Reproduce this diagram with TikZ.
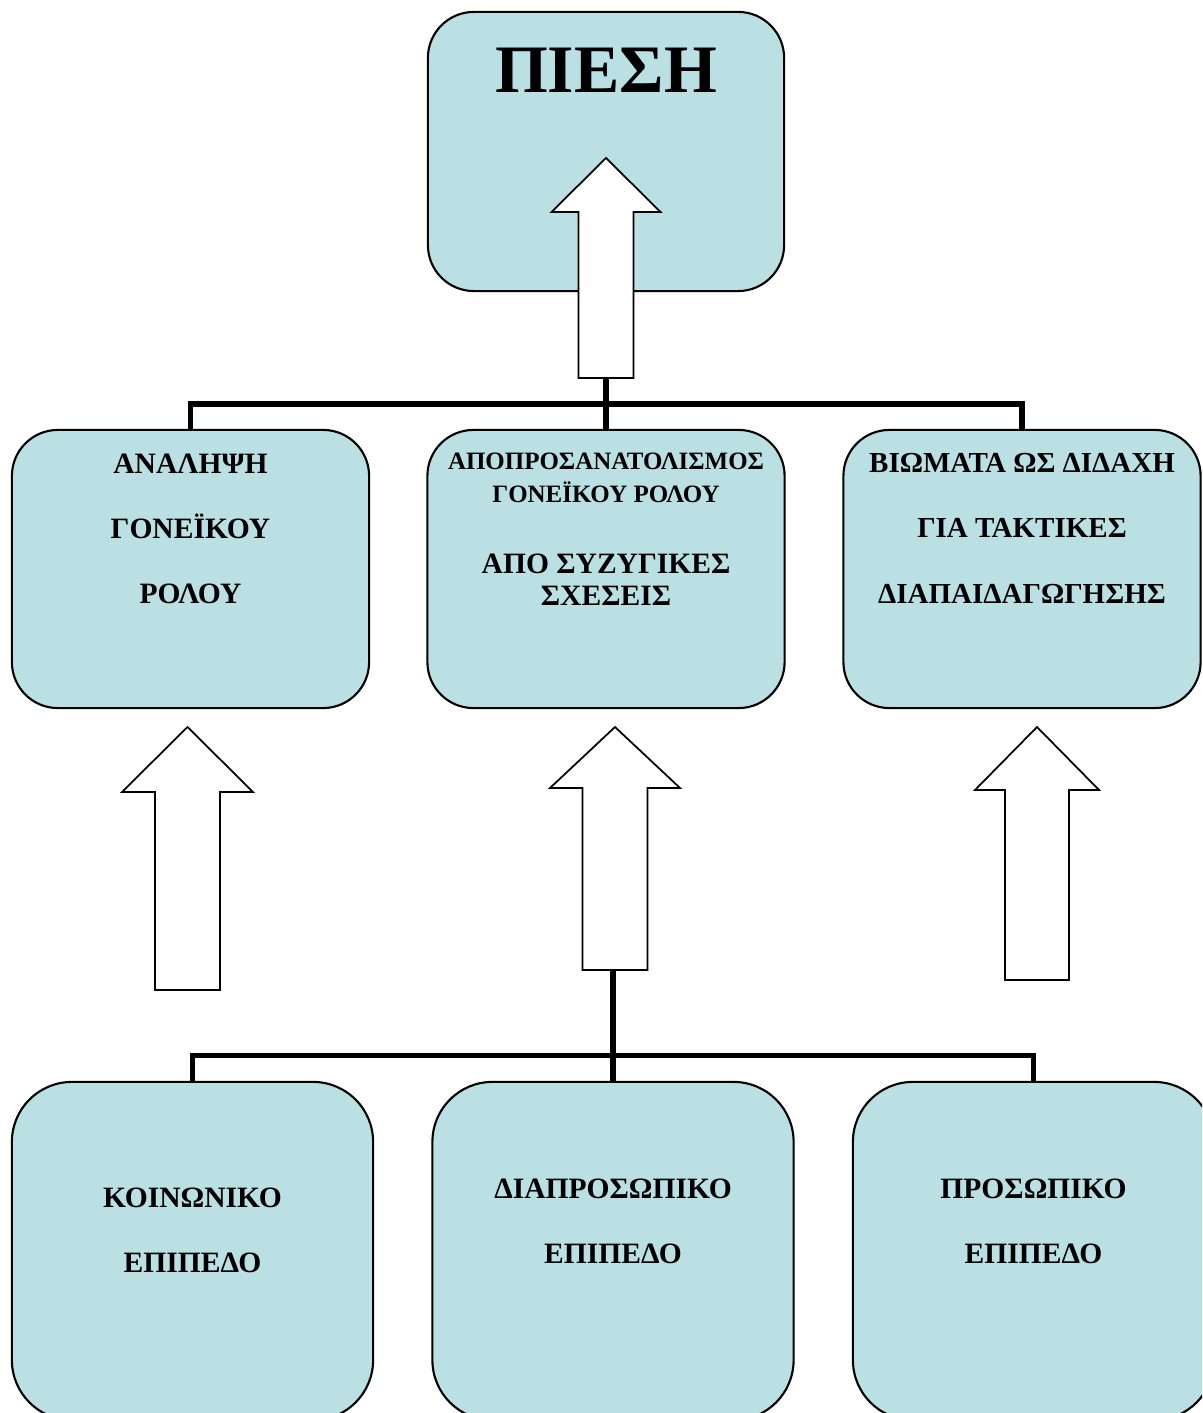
\documentclass[tikz,border=0pt]{standalone}
\usepackage{fontspec}
\setmainfont{Liberation Serif}
\usepackage{tikz}
\usetikzlibrary{positioning}
\definecolor{boxfill}{RGB}{187,224,227}
\newcommand{\boxline}{0.6pt}
\newcommand{\barline}{1.5pt}
% block arrow pointing up: name, x, tip y, head half, shaft half, head base y, tail y
\newcommand{\blockup}[7]{%
  \draw[blk] (#2,#3) -- (#2+#4,#6) -- (#2+#5,#6) -- (#2+#5,#7) -- (#2-#5,#7)
    -- (#2-#5,#6) -- (#2-#4,#6) -- cycle;
  \coordinate (#1) at (#2,#7);}

\begin{document}
\begin{tikzpicture}[x=0.01cm,y=-0.01cm]
                %\draw[help lines] (0,0) grid[step=100] (1202,1413);
                \clip (0,0) rectangle (1202,1413);
                \tikzset{pbox/.style = {draw, fill=boxfill, line width=\boxline, inner sep=0pt},
                         mbox/.style = {pbox, rounded corners=0.46cm, minimum width=3.57cm, minimum height=2.78cm},
                         lbox/.style = {pbox, rounded corners=0.6cm, minimum width=3.61cm, minimum height=3.38cm},
                         blk/.style = {draw, fill=white, line width=0.5pt, line join=miter},
                         bar/.style = {line width=\barline},
                         txt/.style = {anchor=north, inner sep=0pt, align=center,
                                       font=\bfseries\fontsize{8.4}{18.5}\selectfont}}
                % boxes
                \node[pbox, rounded corners=0.46cm, minimum width=3.56cm, minimum height=2.79cm] (p) at (606,151.5) {};
                \node[mbox] (m1) at (190.5,569) {};
                \node[mbox] (m2) at (606,569) {};
                \node[mbox] (m3) at (1022,569) {};
                \node[lbox] (b1) at (192.5,1251) {};
                \node[lbox] (b2) at (613,1251) {};
                \node[lbox] (b3) at (1033.5,1251) {};
                % texts
                \node[txt, font=\bfseries\fontsize{19.3}{22}\selectfont] (tp) at (606,47) {ΠΙΕΣΗ};
                \node[txt] (t1) at (190.5,453) {ΑΝΑΛΗΨΗ\\ΓΟΝΕΪΚΟΥ\\ΡΟΛΟΥ};
                \node[txt, font=\bfseries\fontsize{7.1}{9.4}\selectfont] (t2) at (606,452) {ΑΠΟΠΡΟΣΑΝΑΤΟΛΙΣΜΟΣ\\ΓΟΝΕΪΚΟΥ ΡΟΛΟΥ};
                \node[txt, font=\bfseries\fontsize{8.4}{9.1}\selectfont] (t2b) at (606,553) {ΑΠΟ ΣΥΖΥΓΙΚΕΣ\\ΣΧΕΣΕΙΣ};
                \node[txt, font=\bfseries\fontsize{8.25}{18.5}\selectfont] (t3) at (1022,453) {ΒΙΩΜΑΤΑ ΩΣ ΔΙΔΑΧΗ\\ΓΙΑ ΤΑΚΤΙΚΕΣ\\ΔΙΑΠΑΙΔΑΓΩΓΗΣΗΣ};
                \node[txt] (u1) at (192.5,1187) {ΚΟΙΝΩΝΙΚΟ\\ΕΠΙΠΕΔΟ};
                \node[txt] (u2) at (613,1178) {ΔΙΑΠΡΟΣΩΠΙΚΟ\\ΕΠΙΠΕΔΟ};
                \node[txt] (u3) at (1033.5,1178) {ΠΡΟΣΩΠΙΚΟ\\ΕΠΙΠΕΔΟ};
                % arrows
                \blockup{a0}{606}{158}{54.5}{27.5}{212}{378}
                \blockup{a1}{187.5}{727}{65.5}{32.5}{792}{990}
                \blockup{a2}{615}{727}{65}{32.5}{788}{970}
                \blockup{a3}{1037}{727}{62}{32}{790}{980}
                \coordinate (s2) at (613,970);
                % connectors
                \draw[bar] (m1.north) -- ++(0,-25) -| (m3.north);
                \draw[bar] (m2.north) -- (a0);
                \draw[bar] (b1.north) -- ++(0,-25) -| (b3.north);
                \draw[bar] (b2.north) -- (s2);
        \end{tikzpicture}
\end{document}
